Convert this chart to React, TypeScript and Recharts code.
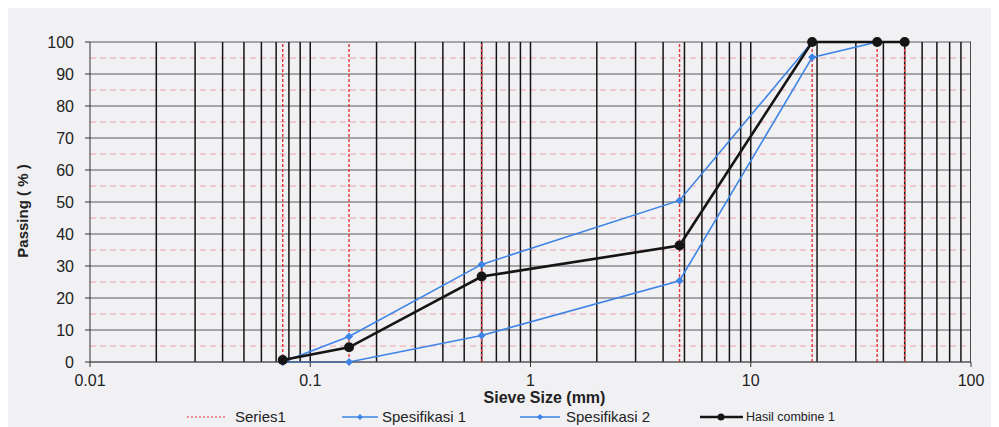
import React from 'react';
import {
  ComposedChart,
  Line,
  XAxis,
  YAxis,
  CartesianGrid,
  ReferenceLine,
  Legend,
} from 'recharts';

// Sieve sizes (mm) drawn as "Series1" red dashed verticals
const sieveSizes = [0.075, 0.15, 0.6, 4.75, 19, 37.5, 50];

// Specification envelopes
const specSizes = [0.075, 0.15, 0.6, 4.75, 19, 37.5];
const spec1Values = [0, 8, 30.5, 50.5, 100, 100];
const spec2Values = [0, 0, 8.3, 25.4, 95.2, 100];

// Combined gradation
const combineSizes = [0.075, 0.15, 0.6, 4.75, 19, 37.5, 50];
const combineValues = [0.6, 4.6, 26.7, 36.4, 100, 100, 100];

// Axis ticks
const xTicks = [0.01, 0.1, 1, 10, 100];
const xTickLabels = ['0.01', '0.1', '1', '10', '100'];
const yTicks = [0, 10, 20, 30, 40, 50, 60, 70, 80, 90, 100];
const yMinorTicks = [5, 15, 25, 35, 45, 55, 65, 75, 85, 95];
const logGridX = [
  0.02, 0.03, 0.04, 0.05, 0.06, 0.07, 0.08, 0.09, 0.1,
  0.2, 0.3, 0.4, 0.5, 0.6, 0.7, 0.8, 0.9, 1,
  2, 3, 4, 5, 6, 7, 8, 9, 10,
  20, 30, 40, 50, 60, 70, 80, 90, 100,
];

const spec1 = specSizes.map((x, i) => ({ x, y: spec1Values[i] }));
const spec2 = specSizes.map((x, i) => ({ x, y: spec2Values[i] }));
const combine = combineSizes.map((x, i) => ({ x, y: combineValues[i] }));

const BLUE = '#3d84e6';
const RED = '#e5343a';
const FONT = '"Liberation Sans", Arial, sans-serif';

const Diamond = (props: any) => {
  const { cx, cy } = props;
  if (cx == null || cy == null) return null;
  const s = 4;
  return (
    <path
      d={`M${cx},${cy - s}L${cx + s},${cy}L${cx},${cy + s}L${cx - s},${cy}Z`}
      fill={BLUE}
      stroke="none"
    />
  );
};

const Circle = (props: any) => {
  const { cx, cy } = props;
  if (cx == null || cy == null) return null;
  return <circle cx={cx} cy={cy} r={5} fill="#151515" stroke="none" />;
};

const LegendContent = () => (
  <svg width={983} height={20} style={{ display: 'block' }}>
    <g fontFamily={FONT} fill="#222">
      <line x1={179} y1={10} x2={219} y2={10} stroke={RED} strokeWidth={1.2} strokeDasharray="2 2" />
      <text x={227} y={15} fontSize={15}>Series1</text>

      <line x1={334} y1={10} x2={370} y2={10} stroke={BLUE} strokeWidth={1.5} />
      <path d="M352,7L355,10L352,13L349,10Z" fill={BLUE} />
      <text x={374} y={15} fontSize={15}>Spesifikasi 1</text>

      <line x1={512} y1={10} x2={552} y2={10} stroke={BLUE} strokeWidth={1.5} />
      <path d="M532,7L535,10L532,13L529,10Z" fill={BLUE} />
      <text x={558} y={15} fontSize={15}>Spesifikasi 2</text>

      <line x1={692} y1={10} x2={735} y2={10} stroke="#151515" strokeWidth={2.5} />
      <circle cx={713} cy={10} r={3.5} fill="#151515" />
      <text x={738} y={14} fontSize={12.5}>Hasil combine 1</text>
    </g>
  </svg>
);

const YLabel = (props: any) => {
  const { viewBox } = props;
  const x = viewBox.x - 18;
  const y = viewBox.y + viewBox.height / 2 + 9;
  return (
    <text
      x={x}
      y={y}
      transform={`rotate(-90, ${x}, ${y})`}
      textAnchor="middle"
      dominantBaseline="central"
      fontFamily={FONT}
      fontWeight="bold"
      fontSize={15}
      fill="#222"
    >
      Passing ( % )
    </text>
  );
};

export default function App() {
  return (
    <div
      style={{
        width: 983,
        height: 419,
        background: '#f1f1f4',
        outline: '1px solid #b5b5b8',
        fontFamily: FONT,
      }}
    >
      <ComposedChart
        width={983}
        height={419}
        margin={{ top: 34, right: 20, bottom: 0, left: 32 }}
      >
        <CartesianGrid horizontal vertical={false} stroke="#5a5a5e" strokeWidth={1} />
        {yMinorTicks.map((v) => (
          <ReferenceLine
            key={'ym' + v}
            y={v}
            stroke="#f2a0aa"
            strokeWidth={1}
            strokeDasharray="6 4"
            ifOverflow="hidden"
          />
        ))}
        {logGridX.map((v) => (
          <ReferenceLine
            key={'gx' + v}
            x={v}
            stroke="#141414"
            strokeWidth={1.5}
            ifOverflow="hidden"
          />
        ))}
        {sieveSizes.map((v) => (
          <ReferenceLine
            key={'s' + v}
            x={v}
            stroke={RED}
            strokeWidth={1.4}
            strokeDasharray="3 2"
            ifOverflow="hidden"
          />
        ))}
        <XAxis
          dataKey="x"
          type="number"
          scale="log"
          domain={[0.01, 100]}
          ticks={xTicks}
          allowDataOverflow
          height={45}
          tickSize={5}
          tickMargin={8}
          tickFormatter={(v: number) => xTickLabels[xTicks.indexOf(v)] ?? String(v)}
          tick={{ fontSize: 16, fill: '#222', fontFamily: FONT }}
          axisLine={{ stroke: '#555' }}
          tickLine={{ stroke: '#333' }}
          label={{
            value: 'Sieve Size (mm)',
            position: 'insideBottom',
            offset: 4,
            dx: 14,
            style: { fontSize: 16, fontWeight: 'bold', fill: '#222', fontFamily: FONT },
          }}
        />
        <YAxis
          type="number"
          domain={[0, 100]}
          ticks={yTicks}
          width={50}
          tickSize={5}
          tickMargin={11}
          tick={{ fontSize: 16, fill: '#222', fontFamily: FONT }}
          axisLine={{ stroke: '#333' }}
          tickLine={{ stroke: '#333' }}
          label={<YLabel />}
        />
        <Legend
          verticalAlign="bottom"
          height={20}
          wrapperStyle={{ left: 0, width: 983 }}
          content={<LegendContent />}
        />
        <Line
          data={spec1}
          dataKey="y"
          name="Spesifikasi 1"
          type="linear"
          stroke={BLUE}
          strokeWidth={1.6}
          dot={<Diamond />}
          activeDot={false}
          isAnimationActive={false}
        />
        <Line
          data={spec2}
          dataKey="y"
          name="Spesifikasi 2"
          type="linear"
          stroke={BLUE}
          strokeWidth={1.6}
          dot={<Diamond />}
          activeDot={false}
          isAnimationActive={false}
        />
        <Line
          data={combine}
          dataKey="y"
          name="Hasil combine 1"
          type="linear"
          stroke="#151515"
          strokeWidth={2.6}
          dot={<Circle />}
          activeDot={false}
          isAnimationActive={false}
        />
      </ComposedChart>
    </div>
  );
}
